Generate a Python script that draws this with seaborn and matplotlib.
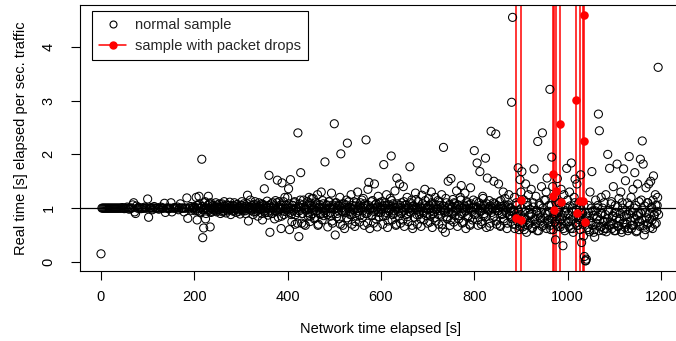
import numpy as np
import pandas as pd
import matplotlib
matplotlib.use("Agg")
import matplotlib.pyplot as plt
from matplotlib.lines import Line2D
import seaborn as sns

# ---- data ----
# normal samples at even seconds (0 .. 1194 s)
net_time_even = np.arange(0, 1196, 2)
ratio_even = [
    0.15, 1.00, 1.00, 1.00, 1.00, 1.00, 1.00, 1.00, 1.00, 1.00, 1.00, 1.00, 1.00, 1.00, 1.00, 1.00, 1.00, 1.00, 1.00, 1.00,
    1.00, 1.00, 1.00, 1.01, 1.00, 0.99, 1.00, 1.00, 1.02, 1.00, 0.98, 1.00, 1.00, 1.00, 1.06, 1.10, 0.93, 0.90, 1.04, 1.00,
    1.00, 1.01, 1.00, 0.99, 1.00, 1.00, 1.00, 1.02, 1.00, 1.00, 1.17, 0.83, 1.00, 1.00, 1.01, 0.97, 1.00, 1.03, 1.00, 1.00,
    1.00, 1.00, 0.98, 1.00, 1.02, 1.00, 1.00, 1.00, 1.09, 0.92, 1.00, 1.00, 1.00, 0.99, 1.00, 1.10, 0.93, 1.00, 1.00, 1.01,
    1.00, 1.00, 1.02, 0.97, 1.00, 1.08, 1.00, 1.00, 1.00, 0.93, 1.00, 1.00, 1.19, 0.81, 1.00, 1.00, 1.03, 0.96, 1.00, 1.02,
    1.00, 0.95, 1.20, 0.78, 1.05, 1.22, 0.93, 1.00, 1.91, 0.45, 0.63, 1.10, 0.80, 1.00, 0.97, 1.22, 1.08, 0.65, 0.92, 1.00,
    1.05, 0.96, 1.00, 1.10, 0.93, 1.02, 0.98, 1.08, 0.90, 1.00, 1.04, 0.95, 1.12, 1.00, 0.91, 1.06, 1.00, 0.98, 1.11, 0.88,
    1.00, 1.05, 0.94, 1.10, 1.00, 0.92, 1.07, 0.97, 1.03, 0.89, 1.00, 1.12, 0.95, 1.08, 1.00, 0.90, 1.04, 1.24, 0.76, 1.00,
    1.15, 0.96, 1.00, 0.88, 1.07, 1.12, 0.93, 1.02, 0.85, 1.10, 1.00, 0.97, 1.08, 0.78, 1.05, 1.36, 0.92, 1.00, 1.13, 0.87,
    1.61, 0.55, 1.02, 0.90, 1.10, 1.00, 0.80, 1.14, 0.95, 1.52, 0.83, 1.12, 1.00, 0.62, 1.47, 1.05, 0.88, 1.20, 1.00, 0.93,
    1.20, 1.36, 0.60, 1.53, 0.88, 1.05, 0.95, 1.10, 0.70, 1.00, 0.92, 2.40, 0.47, 1.08, 1.66, 0.72, 0.90, 1.15, 1.00, 0.68,
    0.98, 1.12, 0.85, 1.20, 0.75, 1.05, 1.18, 0.90, 1.00, 0.82, 1.10, 0.95, 1.25, 0.70, 1.02, 0.88, 1.30, 0.78, 1.08, 0.95,
    1.86, 0.92, 1.06, 0.65, 1.12, 1.00, 0.85, 1.28, 0.72, 1.02, 2.57, 0.50, 1.10, 0.90, 1.05, 0.80, 1.20, 2.01, 0.95, 0.68,
    1.08, 0.62, 0.92, 1.15, 2.21, 0.78, 1.02, 0.88, 1.25, 0.70, 0.97, 1.12, 0.66, 1.04, 0.85, 1.30, 0.95, 0.74, 1.10, 1.00,
    0.82, 1.18, 0.68, 1.05, 2.27, 0.90, 1.35, 1.48, 0.62, 1.00, 0.87, 1.14, 0.72, 1.45, 0.96, 1.08, 0.65, 1.22, 0.84, 1.02,
    0.92, 1.12, 0.70, 1.81, 1.05, 0.86, 1.25, 0.64, 1.00, 0.95, 1.18, 1.97, 0.78, 1.08, 0.90, 1.32, 0.68, 1.56, 1.02, 0.85,
    1.45, 0.72, 1.10, 0.94, 1.40, 0.66, 1.06, 0.88, 1.20, 0.75, 1.00, 1.77, 0.92, 1.15, 0.62, 1.04, 0.83, 1.28, 0.97, 0.70,
    1.12, 0.88, 1.02, 0.66, 1.24, 0.95, 0.78, 1.35, 1.05, 0.90, 0.72, 1.18, 1.00, 0.85, 1.30, 0.64, 1.08, 0.93, 1.20, 0.76,
    0.98, 1.14, 0.70, 1.05, 0.87, 1.25, 0.62, 2.13, 0.92, 0.55, 1.10, 0.80, 1.50, 1.02, 0.68, 1.55, 0.90, 1.16, 0.74, 1.08,
    0.95, 1.32, 0.66, 1.04, 0.86, 1.20, 1.42, 0.72, 1.00, 0.92, 1.28, 0.62, 1.12, 0.84, 1.06, 0.70, 1.38, 0.96, 0.78, 1.15,
    2.07, 0.88, 1.02, 1.84, 0.68, 1.10, 1.68, 0.94, 0.75, 1.22, 0.86, 1.05, 1.93, 0.64, 1.56, 0.98, 1.14, 0.72, 2.43, 1.00,
    0.82, 1.50, 1.08, 2.38, 0.70, 0.95, 1.45, 1.12, 0.66, 1.03, 0.88, 1.30, 0.76, 1.18, 0.92, 0.62, 1.06, 1.25, 0.85, 1.00,
    2.97, 4.55, 0.95, 1.20, 0.70, 1.10, 0.85, 1.75, 0.60, 1.53, 1.30, 1.68, 0.65, 1.15, 0.80, 1.45, 0.55, 1.05, 1.25, 0.72,
    0.88, 1.35, 0.62, 1.10, 1.73, 0.78, 1.22, 0.95, 2.24, 0.58, 1.05, 0.82, 1.40, 2.40, 0.68, 1.15, 0.90, 1.30, 1.56, 0.72,
    1.05, 3.21, 0.60, 1.95, 1.40, 0.85, 1.20, 0.41, 0.70, 1.55, 0.92, 1.10, 0.65, 1.35, 0.80, 0.30, 1.25, 0.58, 0.95, 1.74,
    1.15, 0.75, 1.30, 0.62, 1.84, 1.00, 0.55, 1.20, 1.54, 0.85, 1.45, 0.68, 1.10, 0.78, 1.62, 0.36, 0.90, 0.48, 0.10, 0.02,
    0.05, 0.85, 1.05, 0.60, 1.30, 0.72, 1.68, 0.95, 0.55, 0.46, 1.15, 0.80, 1.00, 2.75, 2.44, 0.65, 1.20, 0.90, 0.58, 1.10,
    0.75, 1.25, 0.62, 2.00, 0.95, 1.74, 0.70, 1.12, 0.85, 1.40, 0.58, 1.05, 0.92, 1.82, 0.66, 1.18, 0.80, 1.30, 0.55, 1.00,
    1.73, 0.72, 1.51, 0.88, 1.10, 0.62, 1.96, 0.95, 1.20, 0.68, 1.35, 0.82, 1.66, 1.05, 0.58, 1.45, 0.90, 0.75, 1.91, 1.15,
    2.25, 1.82, 0.50, 0.92, 1.38, 0.70, 1.10, 1.45, 0.80, 1.50, 1.02, 0.62, 1.60, 0.88, 1.25, 0.72, 1.05, 3.62,
]

# normal samples at odd seconds (201 .. 1195 s)
net_time_odd = np.arange(201, 1196, 2)
ratio_odd = [
    1.02, 0.98, 1.05, 0.95, 1.00, 1.08, 0.92, 1.00, 1.03, 0.97, 1.00, 1.12, 0.90, 1.00, 1.05, 0.96, 1.00, 1.10, 0.94, 1.00,
    0.98, 1.03, 1.00, 0.95, 1.06, 1.00, 0.97, 1.02, 1.00, 1.08, 0.93, 1.00, 1.04, 0.98, 1.00, 0.95, 1.05, 1.00, 0.97, 1.03,
    1.00, 0.96, 1.04, 1.00, 0.98, 1.06, 1.00, 0.94, 1.02, 1.00, 1.05, 0.97, 1.00, 1.03, 0.95, 1.00, 1.08, 0.98, 1.00, 1.02,
    0.97, 1.05, 1.00, 0.93, 1.02, 1.00, 1.06, 0.96, 1.00, 1.04, 0.98, 1.00, 0.90, 1.07, 1.00, 0.95, 1.03, 1.00, 0.92, 1.05,
    1.00, 0.96, 1.08, 0.90, 1.00, 1.04, 0.95, 1.00, 1.10, 0.93, 1.02, 0.98, 1.06, 0.85, 1.00, 1.12, 0.94, 1.00, 1.05, 0.97,
    1.00, 1.08, 0.92, 1.00, 0.75, 1.05, 0.98, 1.12, 0.88, 1.00, 0.72, 1.03, 0.95, 1.15, 1.00, 0.90, 1.06, 0.70, 1.00, 0.96,
    1.04, 0.92, 1.00, 1.10, 0.85, 1.00, 0.96, 1.18, 0.80, 1.02, 0.95, 1.08, 0.68, 1.00, 1.06, 0.90, 1.00, 1.14, 0.86, 1.00,
    0.97, 1.05, 0.88, 1.00, 1.12, 0.92, 1.00, 0.76, 1.06, 0.98, 1.00, 1.10, 0.84, 1.00, 0.95, 1.04, 0.70, 1.00, 1.08, 0.93,
    1.00, 0.96, 1.06, 0.82, 1.00, 1.12, 0.94, 1.00, 0.88, 1.05, 0.98, 1.00, 0.75, 1.10, 0.92, 1.00, 1.04, 0.86, 1.00, 1.15,
    0.95, 1.00, 1.08, 0.90, 1.00, 0.72, 1.05, 0.97, 1.00, 1.12, 0.86, 1.00, 0.94, 1.06, 0.80, 1.00, 1.02, 0.92, 1.10, 1.00,
    0.96, 1.04, 0.85, 1.00, 1.10, 0.92, 1.00, 0.76, 1.06, 0.98, 1.00, 1.14, 0.88, 1.02, 0.95, 1.00, 0.70, 1.08, 0.94, 1.00,
    1.05, 0.90, 1.00, 0.78, 1.12, 0.96, 1.00, 1.06, 0.84, 1.00, 0.93, 1.10, 1.00, 0.68, 1.04, 0.97, 1.00, 1.16, 0.88, 1.00,
    0.94, 1.02, 0.80, 1.00, 1.08, 0.92, 1.00, 1.14, 0.86, 1.00, 0.97, 1.05, 0.74, 1.00, 1.10, 0.90, 1.00, 0.82, 1.06, 0.98,
    1.00, 0.88, 1.12, 0.95, 1.00, 0.70, 1.04, 0.96, 1.00, 1.18, 0.84, 1.00, 0.92, 1.07, 0.78, 1.00, 1.03, 0.94, 1.10, 0.86,
    1.00, 0.97, 1.06, 0.80, 1.00, 1.15, 0.90, 1.00, 0.74, 1.04, 0.95, 1.00, 1.10, 0.86, 1.00, 0.68, 1.08, 0.93, 1.00, 1.02,
    0.88, 1.00, 1.12, 0.78, 1.00, 0.95, 1.05, 0.70, 1.00, 1.18, 0.90, 1.00, 0.84, 1.08, 0.96, 1.00, 0.66, 1.04, 0.92, 1.00,
    1.10, 0.85, 1.00, 0.76, 1.05, 0.95, 1.00, 0.68, 1.14, 0.90, 1.00, 0.80, 1.06, 0.96, 1.00, 0.72, 1.02, 0.88, 1.00, 0.94,
    0.80, 0.70, 0.92, 0.62, 0.85, 1.05, 0.75, 0.95, 0.66, 0.88, 1.00, 0.72, 0.82, 0.60, 0.94, 0.78, 1.10, 0.68, 0.86, 0.98,
    0.74, 0.90, 0.64, 1.02, 0.80, 0.70, 0.95, 0.58, 0.86, 1.08, 0.76, 0.92, 0.66, 1.00, 0.82, 0.72, 1.15, 0.62, 0.88, 0.78,
    0.94, 0.68, 1.05, 0.80, 0.60, 0.90, 0.74, 1.10, 0.84, 0.66, 0.96, 0.78, 1.02, 0.70, 0.86, 0.62, 0.92, 0.76, 1.00, 0.72,
    0.88, 0.66, 1.04, 0.78, 0.94, 0.62, 0.84, 1.10, 0.72, 0.96, 0.68, 0.86, 1.00, 0.60, 0.80, 0.92, 0.70, 1.05, 0.76, 0.02,
    0.82, 0.64, 0.92, 0.56, 0.76, 1.00, 0.68, 0.86, 0.60, 0.95, 0.72, 0.84, 1.05, 0.58, 0.78, 0.90, 0.66, 1.00, 0.74, 0.62,
    0.88, 0.56, 0.80, 0.96, 0.68, 0.74, 1.08, 0.62, 0.86, 0.70, 0.92, 0.58, 0.82, 1.02, 0.66, 0.76, 0.90, 0.60, 1.10, 0.72,
    0.84, 0.64, 0.95, 0.70, 0.58, 0.88, 1.05, 0.76, 0.62, 0.92, 0.68, 1.00, 0.80, 0.56, 0.86, 0.74, 1.12, 0.66, 0.90, 0.78,
    0.96, 0.68, 1.04, 0.60, 0.82, 1.10, 0.72, 0.90, 0.64, 1.00, 0.78, 1.15, 0.86, 0.70, 1.05, 0.94, 1.20, 0.88,
]

# samples with packet drops
drop_time = [889, 901, 901, 969, 968, 971, 976, 984, 985, 1019, 1020, 1027, 1033, 1035, 1036, 1038]
drop_ratio = [0.81, 1.15, 0.78, 1.64, 1.23, 0.96, 1.32, 2.56, 1.12, 3.02, 0.91, 1.14, 1.14, 4.59, 2.24, 0.75]
drop_lines = [889, 901, 968, 971, 976, 984, 1019, 1027, 1033, 1036]

x_ticks = [0, 200, 400, 600, 800, 1000, 1200]
y_ticks = [0, 1, 2, 3, 4]

normal = pd.DataFrame({
    "t": np.concatenate([net_time_even, net_time_odd]),
    "r": np.concatenate([ratio_even, ratio_odd]),
})
drops = pd.DataFrame({"t": drop_time, "r": drop_ratio})

# ---- style ----
sns.set_theme(style="white")
plt.rcParams["font.family"] = ["Liberation Sans", "DejaVu Sans"]

fig = plt.figure(figsize=(6.76, 3.41), dpi=100)
ax = fig.add_axes([80 / 676, 1 - 271 / 341, 601 / 676, 266 / 341])

for v in drop_lines:
    ax.axvline(v, color="red", lw=1.1, zorder=1)
ax.axhline(1, color="black", lw=0.9, zorder=1)

sns.scatterplot(data=normal, x="t", y="r", ax=ax, marker="o", s=34,
                fc="none", ec="black", linewidth=0.75, zorder=2, legend=False)
sns.scatterplot(data=drops, x="t", y="r", ax=ax, marker="o", s=38,
                color="red", ec="red", linewidth=0, zorder=3, legend=False)

ax.set_xlim(-45, 1243)
ax.set_ylim(-0.17, 4.78)
ax.set_xticks(x_ticks)
ax.set_yticks(y_ticks)
ax.set_yticklabels([str(v) for v in y_ticks], rotation=90, va="center")
ax.tick_params(axis="both", direction="out", length=6.5, width=0.8,
               color="black", labelsize=10.5, labelcolor="black", bottom=True, left=True)
ax.tick_params(axis="x", pad=7)
ax.tick_params(axis="y", pad=11)
for s in ax.spines.values():
    s.set_color("black")
    s.set_linewidth(0.8)

ax.set_xlabel("Network time elapsed [s]", fontsize=10.5, color="black", labelpad=13)
ax.set_ylabel("Real time [s] elapsed per sec. traffic", fontsize=10.5, color="black", labelpad=10)

handles = [
    Line2D([], [], marker="o", ls="none", mfc="none", mec="black", ms=5, mew=0.8),
    Line2D([], [], marker="o", color="red", lw=1.1, mfc="red", mec="red", ms=5),
]
leg = ax.legend(handles, ["normal sample", "sample with packet drops"],
                loc="upper left", bbox_to_anchor=(12 / 601, 1 - 6 / 266), borderaxespad=0,
                fontsize=10.5, frameon=True, fancybox=False, edgecolor="black", framealpha=1,
                handlelength=1.85, handletextpad=0.6, borderpad=0.5, labelspacing=0.45)
leg.get_frame().set_linewidth(0.8)

fig.savefig("out.png", dpi=100)
